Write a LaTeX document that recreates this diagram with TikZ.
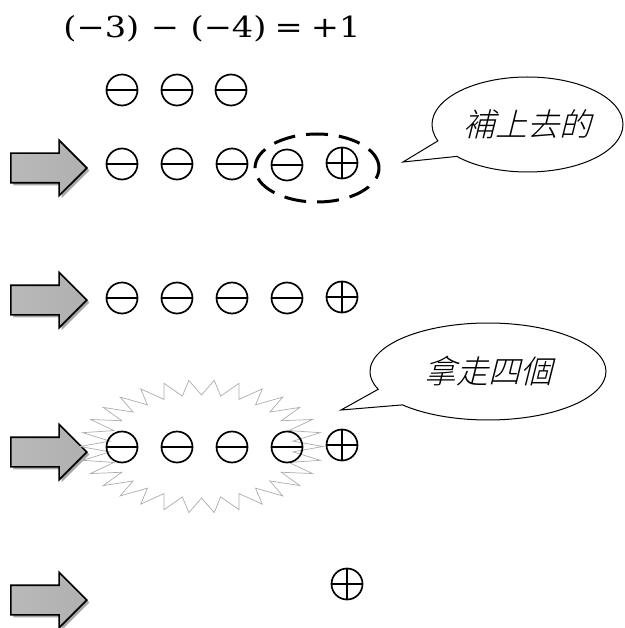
\documentclass[tikz,border=0pt]{standalone}
\usepackage{fontspec}
\newfontfamily\cjk[FakeSlant=0.25]{Noto Sans CJK TC Light}
\newfontfamily\eqfont{DejaVu Serif}
\usetikzlibrary{shapes.arrows,shapes.callouts,shapes.geometric,shadows,calc}
\tikzset{
  chg/.style={circle, draw, line width=1.7pt, minimum size=31pt, inner sep=0pt},
  negchg/.style={chg, path picture={\draw[line width=2.6pt] (path picture bounding box.west) -- (path picture bounding box.east);}},
  poschg/.style={chg, path picture={\draw[line width=2.4pt] (path picture bounding box.west) -- (path picture bounding box.east) (path picture bounding box.north) -- (path picture bounding box.south);}},
  bigarrow/.style={single arrow, draw, line width=1.6pt, minimum height=76pt, minimum width=52pt,
    single arrow head extend=13pt, inner xsep=0pt, inner ysep=14pt, anchor=tip,
    left color=gray!55, middle color=gray!18, right color=gray!62,
    drop shadow={shadow xshift=2.5pt, shadow yshift=-2.5pt, fill=gray!75, opacity=0.9}},
  bubble/.style={ellipse callout, draw, line width=1pt, fill=white, inner sep=0pt,
    callout pointer arc=22, font=\fontsize{32}{34}\selectfont\cjk},
  burst/.style={draw=gray!65, line width=0.7pt},
  grp/.style={ellipse, draw, line width=3pt, dash pattern=on 22pt off 11pt, minimum width=124pt, minimum height=68pt, inner sep=0pt}
}
\begin{document}
\begin{tikzpicture}[x=1pt,y=-1pt]
\useasboundingbox (0,0) rectangle (624,628);

% equation
\node[inner sep=0pt, font=\fontsize{29}{32}\selectfont\eqfont] (eq) at (212,29)
  {\scalebox{1.16}[1]{(−3)\hspace{10pt}−\hspace{10pt}(−4)\hspace{7pt}=\hspace{7pt}+1}};

% arrows
\node[bigarrow] (a1) at (88,168) {};
\node[bigarrow] (a2) at (88,300) {};
\node[bigarrow] (a3) at (88,452) {};
\node[bigarrow] (a4) at (88,600) {};

% starburst
\coordinate (sb) at (201.5,446.5);
\draw[burst] ($(sb)+(121.5,0)$)
  \foreach \i [evaluate=\i as \rx using {isodd(\i)?92:121.5}, evaluate=\i as \ry using {isodd(\i)?51.5:66.5}] in {1,...,59}
  { -- ($(sb)+({\rx*cos(\i*6)},{\ry*sin(\i*6)})$) } -- cycle;

% row 0
\node[negchg] (r0a) at (122,90) {};
\node[negchg] (r0b) at (177,90) {};
\node[negchg] (r0c) at (231,90) {};

% row 1
\node[negchg] (r1a) at (122,164) {};
\node[negchg] (r1b) at (177,164) {};
\node[negchg] (r1c) at (232,164) {};
\node[negchg] (r1d) at (287,165) {};
\node[poschg] (r1e) at (342,163) {};
\node[grp] (g1) at (317,168) {};

% row 2
\node[negchg] (r2a) at (122,298) {};
\node[negchg] (r2b) at (177,298) {};
\node[negchg] (r2c) at (232,298) {};
\node[negchg] (r2d) at (287,298) {};
\node[poschg] (r2e) at (342,297) {};

% row 3
\node[negchg] (r3a) at (122,447) {};
\node[negchg] (r3b) at (177,447) {};
\node[negchg] (r3c) at (232,447) {};
\node[negchg] (r3d) at (287,447) {};
\node[poschg] (r3e) at (342,445) {};

% row 4
\node[poschg] (r4e) at (347,584) {};

% callouts
\node[bubble, minimum width=191pt, minimum height=95pt, callout absolute pointer={(403,162)}] (c1) at (527.5,124.5) {補上去的};
\node[bubble, minimum width=236pt, minimum height=97pt, callout absolute pointer={(341,410)}] (c2) at (488,371.5) {拿走四個\hspace{29pt}};
\end{tikzpicture}
\end{document}
